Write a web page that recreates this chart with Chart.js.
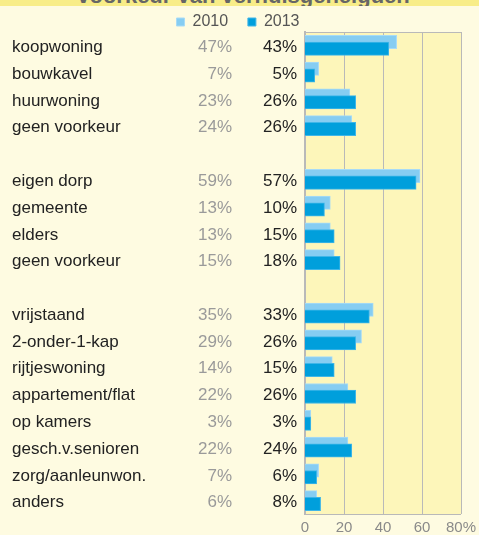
<!DOCTYPE html>
<html>
<head>
<meta charset="utf-8">
<script src="https://cdn.jsdelivr.net/npm/chart.js@4"></script>
<style>
body{margin:0;background:#fefbe1;font-family:"Liberation Sans",Arial,sans-serif;}
#wrap{position:relative;width:479px;height:535px;overflow:hidden;}
#band{position:absolute;left:0;top:0;width:479px;height:6px;background:#f8ed88;overflow:hidden;text-align:center;}
#band span{position:relative;top:-15px;left:4px;font:bold 22px "Liberation Sans",Arial,sans-serif;color:#666;line-height:22px;white-space:nowrap;}
canvas{position:absolute;left:0;top:0;}
</style>
</head>
<body>
<div id="wrap">
<canvas id="chart" width="479" height="535"></canvas>
<div id="band"><span>voorkeur van verhuisgeneigden</span></div>
</div>
<script>
let categories=["koopwoning","bouwkavel","huurwoning","geen voorkeur","",
"eigen dorp","gemeente","elders","geen voorkeur","",
"vrijstaand","2-onder-1-kap","rijtjeswoning","appartement/flat","op kamers","gesch.v.senioren","zorg/aanleunwon.","anders"]

let values2010=[47,7,23,24,null,59,13,13,15,null,35,29,14,22,3,22,7,6]
let values2013=[43,5,26,26,null,57,10,15,18,null,33,26,15,26,3,24,6,8]

let xTicks=[0,20,40,60,80]

// achtergrond van plotgebied + kader, en de tekstkolommen links
let extras={
id:"extras",
beforeDatasetsDraw(chart){
let a=chart.chartArea,ctx=chart.ctx
ctx.save()
ctx.fillStyle="#fdf6ba"
ctx.fillRect(a.left,a.top,a.right-a.left,a.bottom-a.top)
ctx.strokeStyle="#b9b9b9"
ctx.lineWidth=1
ctx.beginPath()
for(let t of xTicks){
let x=Math.round(chart.scales.x.getPixelForValue(t))+0.5
ctx.moveTo(x,a.top);ctx.lineTo(x,a.bottom)
}
ctx.moveTo(a.left,Math.round(a.top)+0.5);ctx.lineTo(a.right,Math.round(a.top)+0.5)
ctx.stroke()
ctx.restore()
},
afterDraw(chart){
let ctx=chart.ctx,y=chart.scales.y
ctx.save()
ctx.font='17px "Liberation Sans", Arial, sans-serif'
ctx.textBaseline="middle"
for(let i=0;i<categories.length;i++){
if(values2010[i]==null) continue
let py=y.getPixelForValue(i)+2
ctx.textAlign="left"
ctx.fillStyle="#222"
ctx.fillText(categories[i],12,py)
ctx.textAlign="right"
ctx.fillStyle="#9a9a9a"
ctx.fillText(values2010[i]+"%",232,py)
ctx.fillStyle="#222"
ctx.fillText(values2013[i]+"%",297,py)
}
ctx.restore()
}
}

let ctx=document.getElementById("chart").getContext("2d")

new Chart(ctx,{
type:"bar",
data:{
labels:categories,
datasets:[{
label:"2010",
data:values2010,
backgroundColor:"#86cdf2",
borderColor:"#a8dbf6",
borderWidth:1,
stack:"boven",
order:2
},{
label:"2013",
data:values2013,
backgroundColor:"#009fdc",
borderColor:"#40b6e8",
borderWidth:1,
stack:"onder",
order:1
},{
// lege reeks zodat 2010 boven ligt en 2013 eroverheen getekend wordt
label:"",
data:categories.map(()=>null),
stack:"boven",
order:0
}]
},
options:{
indexAxis:"y",
responsive:false,
animation:false,
datasets:{bar:{categoryPercentage:0.5,barPercentage:2.0}},
layout:{padding:{left:12,right:15,top:12,bottom:0}},
plugins:{
legend:{
position:"top",
maxHeight:20,
labels:{
boxWidth:8,
boxHeight:8,
padding:2,
color:"#555",
font:{size:16,family:'"Liberation Sans", Arial, sans-serif'},
filter:(item)=>item.text!=="",
sort:(a,b)=>a.datasetIndex-b.datasetIndex,
generateLabels(chart){
let items=Chart.defaults.plugins.legend.labels.generateLabels(chart)
for(let it of items){ if(it.text==="2010") it.text="2010    " }
return items
}
}
},
tooltip:{enabled:false}
},
scales:{
x:{
min:0,max:80,
stacked:false,
ticks:{
stepSize:20,
color:"#8a8a8a",
font:{size:15,lineHeight:1,family:'"Liberation Sans", Arial, sans-serif'},
padding:3,
callback:(v)=>v==80?"80%":v
},
grid:{display:false,drawTicks:true,tickLength:3,color:"#b9b9b9"},
border:{color:"#b9b9b9"},
afterFit(scale){scale.height=21}
},
y:{
ticks:{display:false},
grid:{display:false},
border:{color:"#b9b9b9",width:2},
afterFit(scale){scale.width=293}
}
}
},
plugins:[extras]
})
</script>
</body>
</html>
